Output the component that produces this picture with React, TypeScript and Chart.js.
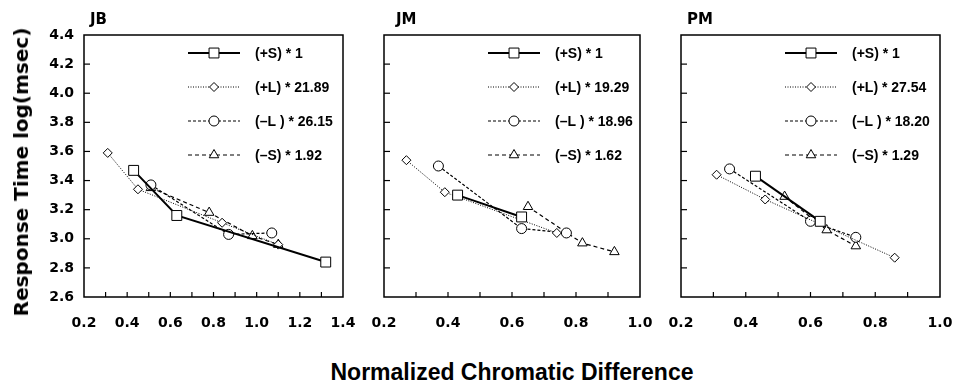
import React, { useEffect, useRef } from 'react';
import { Chart, registerables } from 'chart.js';

Chart.register(...registerables);

// ---------- data ----------
const seriesLabels = ['(+S)', '(+L)', '(–L )', '(–S)'];
const yTickMin = 2.6;
const yTickMax = 4.4;

// JB
const jbFactors = ['1', '21.89', '26.15', '1.92'];
const jbPlusSX = [0.43, 0.63, 1.32];
const jbPlusSY = [3.47, 3.16, 2.84];
const jbPlusLX = [0.31, 0.45, 0.84, 1.10];
const jbPlusLY = [3.59, 3.34, 3.11, 2.96];
const jbMinusLX = [0.51, 0.87, 1.07];
const jbMinusLY = [3.37, 3.03, 3.04];
const jbMinusSX = [0.51, 0.78, 0.98, 1.10];
const jbMinusSY = [3.35, 3.18, 3.02, 2.96];

// JM
const jmFactors = ['1', '19.29', '18.96', '1.62'];
const jmPlusSX = [0.43, 0.63];
const jmPlusSY = [3.30, 3.15];
const jmPlusLX = [0.27, 0.39, 0.74];
const jmPlusLY = [3.54, 3.32, 3.04];
const jmMinusLX = [0.37, 0.63, 0.77];
const jmMinusLY = [3.50, 3.07, 3.04];
const jmMinusSX = [0.65, 0.82, 0.92];
const jmMinusSY = [3.22, 2.97, 2.91];

// PM
const pmFactors = ['1', '27.54', '18.20', '1.29'];
const pmPlusSX = [0.43, 0.63];
const pmPlusSY = [3.43, 3.12];
const pmPlusLX = [0.31, 0.46, 0.86];
const pmPlusLY = [3.44, 3.27, 2.87];
const pmMinusLX = [0.35, 0.60, 0.74];
const pmMinusLY = [3.48, 3.12, 3.01];
const pmMinusSX = [0.52, 0.65, 0.74];
const pmMinusSY = [3.29, 3.06, 2.95];

// ---------- styling ----------
const seriesStyles = [
  { point: 'rect', radius: 7, width: 2, dash: [] as number[] },
  { point: 'rectRot', radius: 4.5, width: 1, dash: [1, 1.5] },
  { point: 'circle', radius: 5, width: 1.2, dash: [3, 2] },
  { point: 'triangle', radius: 5.5, width: 1.2, dash: [4, 3] },
];

const tickFont = { family: 'DejaVu Sans', weight: 'bold' as const, size: 14 };

function zip(xs: number[], ys: number[]) {
  return xs.map((x, i) => ({ x, y: ys[i] }));
}

function drawMarker(ctx: CanvasRenderingContext2D, style: string, r: number, x: number, y: number) {
  ctx.beginPath();
  if (style === 'rect') {
    const s = Math.SQRT1_2 * r;
    ctx.rect(x - s, y - s, 2 * s, 2 * s);
  } else if (style === 'rectRot') {
    ctx.moveTo(x - r, y);
    ctx.lineTo(x, y - r);
    ctx.lineTo(x + r, y);
    ctx.lineTo(x, y + r);
    ctx.closePath();
  } else if (style === 'circle') {
    ctx.arc(x, y, r, 0, Math.PI * 2);
  } else {
    for (let k = 0; k < 3; k++) {
      const a = (k * 2 * Math.PI) / 3;
      const px = x + Math.sin(a) * r;
      const py = y - Math.cos(a) * r;
      if (k === 0) ctx.moveTo(px, py);
      else ctx.lineTo(px, py);
    }
    ctx.closePath();
  }
  ctx.fillStyle = '#fff';
  ctx.fill();
  ctx.lineWidth = 1;
  ctx.setLineDash([]);
  ctx.strokeStyle = '#000';
  ctx.stroke();
}

const framePlugin = {
  id: 'frame',
  afterDraw(chart: any, _args: any, opts: any) {
    const { ctx, chartArea: a, scales } = chart;
    ctx.save();
    ctx.strokeStyle = '#000';
    ctx.setLineDash([]);
    ctx.lineWidth = 1.5;
    ctx.strokeRect(a.left, a.top, a.right - a.left, a.bottom - a.top);
    ctx.lineWidth = 1.2;
    const xs = scales.x;
    xs.ticks.forEach((t: any) => {
      const px = xs.getPixelForValue(t.value);
      if (px <= a.left + 1 || px >= a.right - 1) return;
      ctx.beginPath();
      ctx.moveTo(px, a.bottom);
      ctx.lineTo(px, a.bottom - 5);
      ctx.stroke();
    });
    const ys = scales.y;
    ys.ticks.forEach((t: any) => {
      const py = ys.getPixelForValue(t.value);
      if (py <= a.top + 1 || py >= a.bottom - 1) return;
      ctx.beginPath();
      ctx.moveTo(a.left, py);
      ctx.lineTo(a.left + 6, py);
      ctx.stroke();
    });
    // legend
    const labels: string[] = opts.labels || [];
    labels.forEach((lab, i) => {
      const st = seriesStyles[i];
      const y = a.top + 18 + i * 34;
      const x0 = a.left + 104;
      const x1 = a.left + 156;
      ctx.beginPath();
      ctx.lineWidth = st.width;
      ctx.setLineDash(st.dash);
      ctx.strokeStyle = '#000';
      ctx.moveTo(x0, y);
      ctx.lineTo(x1, y);
      ctx.stroke();
      drawMarker(ctx, st.point, st.radius, (x0 + x1) / 2, y);
      ctx.fillStyle = '#000';
      ctx.font = 'bold 14px "Liberation Sans", Arial, sans-serif';
      ctx.textAlign = 'left';
      ctx.textBaseline = 'middle';
      ctx.fillText(lab, a.left + 171, y + 1);
    });
    ctx.restore();
  },
};

type PanelProps = {
  xs: number[][];
  ys: number[][];
  factors: string[];
  xMax: number;
  axisWidth: number;
  showYLabels: boolean;
  width: number;
  left: number;
  padRight: number;
};

const CANVAS_H = 345;

function Panel({ xs, ys, factors, xMax, axisWidth, showYLabels, width, left, padRight }: PanelProps) {
  const ref = useRef<HTMLCanvasElement>(null);
  useEffect(() => {
    if (!ref.current) return;
    const datasets = xs.map((xv, i) => {
      const st = seriesStyles[i];
      return {
        label: seriesLabels[i],
        data: zip(xv, ys[i]),
        showLine: true,
        borderColor: '#000',
        borderWidth: st.width,
        borderDash: st.dash,
        pointStyle: st.point,
        pointRadius: st.radius,
        pointBackgroundColor: '#fff',
        pointBorderColor: '#000',
        pointBorderWidth: 1,
        fill: false,
      };
    });
    const labels = seriesLabels.map((s, i) => `${s} * ${factors[i]}`);
    const chart = new Chart(ref.current, {
      type: 'scatter',
      data: { datasets: datasets as any },
      options: {
        animation: false,
        responsive: false,
        layout: { padding: { top: 35, right: padRight, left: 0, bottom: 0 } },
        plugins: {
          legend: { display: false },
          tooltip: { enabled: false },
          frame: { labels },
        } as any,
        scales: {
          x: {
            type: 'linear',
            min: 0.2,
            max: xMax,
            grid: { display: false, drawTicks: false },
            border: { display: false },
            ticks: {
              stepSize: 0.1,
              autoSkip: false,
              maxRotation: 0,
              padding: 18,
              color: '#000',
              font: tickFont,
              callback: (v: any) => {
                const n = Math.round(Number(v) * 10);
                return n % 2 === 0 ? (n / 10).toFixed(1) : '';
              },
            },
            afterFit: (s: any) => {
              s.height = CANVAS_H - 297;
              s.paddingLeft = 0;
              s.paddingRight = 0;
            },
          },
          y: {
            type: 'linear',
            min: yTickMin,
            max: yTickMax,
            grid: { display: false, drawTicks: false },
            border: { display: false },
            ticks: {
              stepSize: 0.2,
              display: showYLabels,
              padding: 10,
              color: '#000',
              font: tickFont,
              callback: (v: any) => Number(v).toFixed(1),
            },
            afterFit: (s: any) => {
              s.width = axisWidth;
              s.paddingTop = 0;
              s.paddingBottom = 0;
            },
          },
        },
      },
      plugins: [framePlugin as any],
    });
    return () => chart.destroy();
  }, []);
  return (
    <canvas
      ref={ref}
      width={width}
      height={CANVAS_H}
      style={{ position: 'absolute', left, top: 0, width, height: CANVAS_H }}
    />
  );
}

const titleStyle: React.CSSProperties = {
  position: 'absolute',
  top: 11,
  fontFamily: 'DejaVu Sans, sans-serif',
  fontWeight: 'bold',
  fontSize: 15,
  lineHeight: '16px',
  color: '#000',
};

export default function App() {
  return (
    <div style={{ position: 'absolute', left: 0, top: 0, width: 955, height: 389, background: '#fff', overflow: 'hidden' }}>
      <Panel
        xs={[jbPlusSX, jbPlusLX, jbMinusLX, jbMinusSX]}
        ys={[jbPlusSY, jbPlusLY, jbMinusLY, jbMinusSY]}
        factors={jbFactors}
        xMax={1.4}
        axisWidth={84}
        showYLabels={true}
        width={365}
        left={0}
        padRight={22}
      />
      <Panel
        xs={[jmPlusSX, jmPlusLX, jmMinusLX, jmMinusSX]}
        ys={[jmPlusSY, jmPlusLY, jmMinusLY, jmMinusSY]}
        factors={jmFactors}
        xMax={1.0}
        axisWidth={34}
        showYLabels={false}
        width={312}
        left={350}
        padRight={22}
      />
      <Panel
        xs={[pmPlusSX, pmPlusLX, pmMinusLX, pmMinusSX]}
        ys={[pmPlusSY, pmPlusLY, pmMinusLY, pmMinusSY]}
        factors={pmFactors}
        xMax={1.0}
        axisWidth={34}
        showYLabels={false}
        width={308}
        left={647}
        padRight={15}
      />
      <div style={{ ...titleStyle, left: 90 }}>JB</div>
      <div style={{ ...titleStyle, left: 396 }}>JM</div>
      <div style={{ ...titleStyle, left: 687 }}>PM</div>
      <div
        style={{
          position: 'absolute',
          left: 21,
          top: 172,
          transform: 'translate(-50%, -50%) rotate(-90deg)',
          whiteSpace: 'nowrap',
          fontFamily: 'DejaVu Sans, sans-serif',
          fontWeight: 'bold',
          fontSize: 20,
          lineHeight: '22px',
          color: '#000',
        }}
      >
        Response Time log(msec)
      </div>
      <div
        style={{
          position: 'absolute',
          left: 512,
          top: 372,
          transform: 'translate(-50%, -50%)',
          whiteSpace: 'nowrap',
          fontFamily: '"Liberation Sans", Arial, sans-serif',
          fontWeight: 'bold',
          fontSize: 23,
          lineHeight: '26px',
          color: '#000',
        }}
      >
        Normalized Chromatic Difference
      </div>
    </div>
  );
}
